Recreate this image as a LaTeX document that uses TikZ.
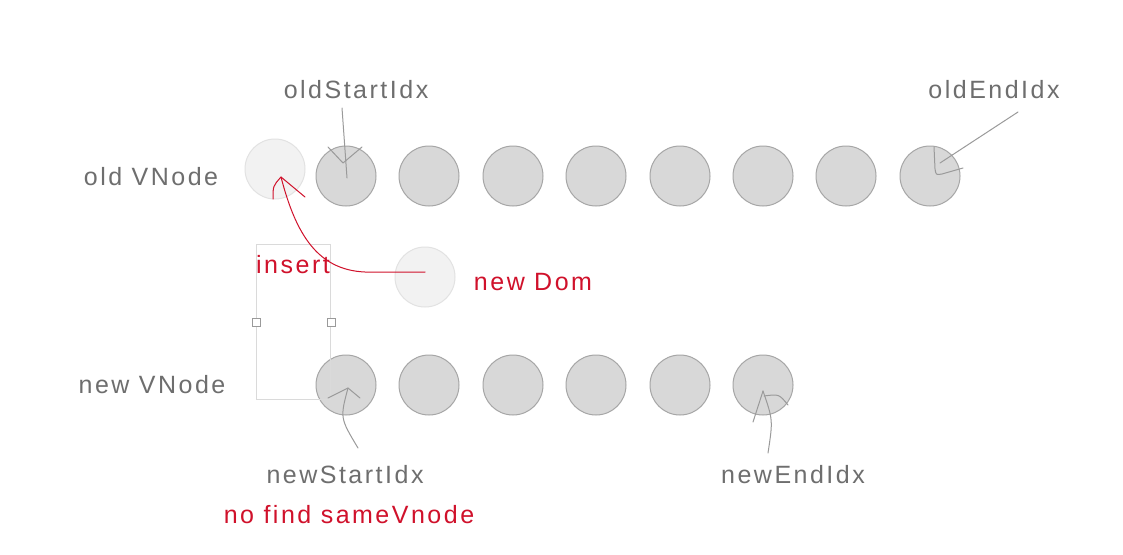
\documentclass[tikz,border=0pt]{standalone}
\usepackage{fontspec}
\setmainfont{Liberation Sans}[LetterSpace=10]
\definecolor{txtgray}{HTML}{6E6E6E}
\definecolor{redtxt}{HTML}{D0112B}
\definecolor{circfill}{HTML}{D8D8D8}
\definecolor{circline}{HTML}{A6A6A6}
\definecolor{lightfill}{HTML}{F2F2F2}
\definecolor{lightline}{HTML}{E2E2E2}
\definecolor{ptrgray}{HTML}{9A9A9A}
\definecolor{rectgray}{HTML}{DADADA}
\tikzset{
  circ/.style={circle,fill=circfill,draw=circline,line width=1pt,minimum size=60pt,inner sep=0pt},
  lightcirc/.style={circle,fill=lightfill,draw=lightline,line width=1pt,minimum size=60pt,inner sep=0pt},
  lbl/.style={anchor=base,inner sep=0pt,text=txtgray,font=\fontsize{25}{29}\selectfont},
  redlbl/.style={anchor=base,inner sep=0pt,text=redtxt,font=\fontsize{25}{29}\selectfont},
  ptr/.style={draw=ptrgray,line width=1pt,line cap=round,line join=round},
  redptr/.style={draw=redtxt,line width=1pt,line cap=round,line join=round},
  handle/.style={draw=ptrgray,fill=white,line width=0.8pt,minimum size=8pt,inner sep=0pt}
}
\begin{document}
\begin{tikzpicture}[x=1pt,y=-1pt]
\useasboundingbox[fill=white] (0,0) rectangle (1123,554);
% labels
\node[lbl] (oldlbl) at (151,185) {old VNode};
\node[lbl] (newlbl) at (152,393) {new VNode};
\node[lbl] (osi) at (356,98) {oldStartIdx};
\node[lbl] (oei) at (994,98) {oldEndIdx};
\node[lbl] (nsi) at (345,483) {newStartIdx};
\node[lbl] (nei) at (793,483) {newEndIdx};
\node[redlbl] (nofind) at (349,523) {no find sameVnode};
\node[redlbl] (insert) at (293,273) {insert};
\node[redlbl] (newdomlbl) at (533,290) {new Dom};
% old row
\node[lightcirc] (o0) at (275,169) {};
\foreach \i/\x in {1/346,2/429,3/513,4/596,5/680,6/763,7/846,8/930}{
  \node[circ] (o\i) at (\x,176) {};
}
% new dom
\node[lightcirc] (nd) at (425,277) {};
% new row
\foreach \i/\x in {1/346,2/429,3/513,4/596,5/680,6/763}{
  \node[circ] (n\i) at (\x,385) {};
}
% selection rectangle
\node[draw=rectgray,line width=1pt,minimum width=74pt,minimum height=155pt,inner sep=0pt,anchor=north west] (sel) at (256,244) {};
\node[handle] (hl) at (sel.west) {};
\node[handle] (hr) at (sel.east) {};
% pointers
\coordinate (osiTip) at (347,178);
\draw[ptr] (342,108) -- (osiTip);
\draw[ptr] (328,147) -- (343,163) -- (362,147);
\coordinate (oeiTip) at (940,163);
\draw[ptr] (1018,112) -- (oeiTip);
\draw[ptr] (934,147) -- (935,169) .. controls (936,175) .. (942,174) -- (963,168);
\coordinate (nsiTip) at (348,388);
\draw[ptr] (358,448) .. controls (340,418) .. (nsiTip);
\draw[ptr] (328,398) -- (nsiTip) -- (360,398);
\coordinate (neiTip) at (763,391);
\draw[ptr] (768,453) .. controls (773,420) .. (neiTip);
\draw[ptr] (753,422) -- (neiTip);
\draw[ptr] (764,396) .. controls (779,394) .. (788,405);
% red insert curve
\coordinate (redTip) at (281,177);
\draw[redptr] (nd.center) ++(0,-5) -- (365,272) .. controls (318,270) and (296,235) .. (redTip);
\draw[redptr] (273,199) .. controls (273,186) .. (redTip) -- (305,197);
\end{tikzpicture}
\end{document}
